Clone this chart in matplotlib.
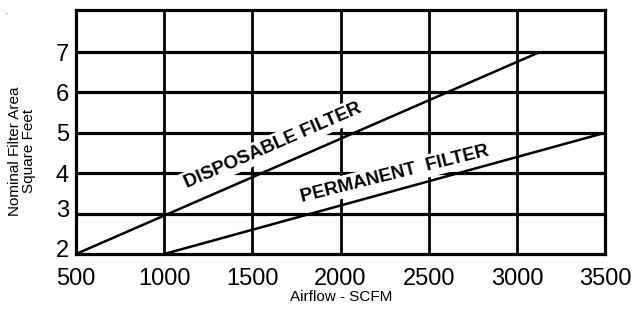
import matplotlib.pyplot as plt
from matplotlib.transforms import ScaledTranslation

plt.rcParams["font.family"] = ["Liberation Sans", "DejaVu Sans"]

# filter sizing lines (airflow SCFM -> nominal area sq ft)
disposable_x = [500, 3130]
disposable_y = [2, 7]
permanent_x = [1000, 3500]
permanent_y = [2, 5]

x_ticks = [500, 1000, 1500, 2000, 2500, 3000, 3500]
y_ticks = [2, 3, 4, 5, 6, 7]

fig = plt.figure(figsize=(6.35, 3.12), dpi=100)
ax = fig.add_axes((76 / 635, 58 / 312, 529 / 635, 244 / 312))

ax.set_xlim(500, 3500)
ax.set_ylim(2, 8.04)

# grid drawn by hand so vertical / horizontal can differ in weight
for x in x_ticks[1:-1]:
    ax.axvline(x, color="black", lw=2.0, zorder=1)
for y in y_ticks[1:]:
    ax.axhline(y, color="black", lw=2.3, zorder=1)

ax.plot(disposable_x, disposable_y, color="black", lw=1.8, zorder=4,
        solid_capstyle="butt")
ax.plot(permanent_x, permanent_y, color="black", lw=1.8, zorder=4,
        solid_capstyle="butt")

label_box = dict(facecolor="white", edgecolor="none", pad=2.0)
ax.text(1617, 4.68, "DISPOSABLE FILTER", rotation=23.5, fontsize=13.5,
        fontweight="bold", ha="center", va="center", rotation_mode="anchor",
        bbox=label_box, zorder=3)
ax.text(2310, 3.98, "PERMANENT  FILTER", rotation=14, fontsize=13.5,
        fontweight="bold", ha="center", va="center", rotation_mode="anchor",
        bbox=label_box, zorder=3)

for side in ax.spines.values():
    side.set_linewidth(2.3)
    side.set_zorder(5)

ax.set_xticks(x_ticks)
ax.set_yticks(y_ticks)
ax.tick_params(length=0, labelsize=17)
ax.tick_params(axis="x", pad=10)
ax.tick_params(axis="y", pad=5)

# the lowest two y labels sit a little high in the original
for lbl in ax.get_yticklabels()[:2]:
    lbl.set_transform(lbl.get_transform()
                      + ScaledTranslation(0, 4 / 72, fig.dpi_scale_trans))

fig.text(341 / 635, 1 - 297 / 312, "Airflow - SCFM", fontsize=11,
         ha="center", va="center")
fig.text(22 / 635, 1 - 151 / 312, "Nominal Filter Area\nSquare Feet",
         fontsize=11, rotation=90, ha="center", va="center",
         multialignment="center", linespacing=1.0)
# stray speck in the top-left corner of the scan
fig.text(6 / 635, 1 - 12 / 312, ".", fontsize=5, ha="center", va="center")

fig.savefig("out.png", dpi=100)
